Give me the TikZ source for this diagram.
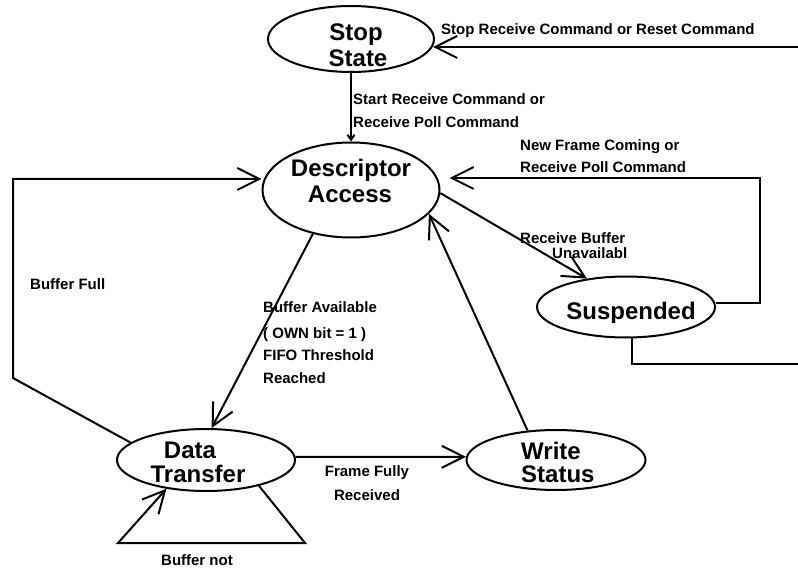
\documentclass[tikz,border=0pt]{standalone}
\usepackage{fontspec}
\setmainfont{Liberation Sans}
\usetikzlibrary{shapes.geometric,arrows.meta}
\begin{document}
\begin{tikzpicture}[x=1pt,y=-1pt,
  state/.style={ellipse,draw,line width=2pt,inner sep=0pt},
  stname/.style={anchor=base,inner sep=0pt,font=\fontsize{24}{24}\selectfont\bfseries},
  lbl/.style={anchor=base west,inner sep=0pt,font=\fontsize{15}{15}\selectfont\bfseries},
  lblc/.style={lbl,anchor=base},
  wire/.style={line width=2pt},
  arr/.style={wire,-{Straight Barb[length=22pt,width=22pt]}},
  tinyarr/.style={wire,-{Straight Barb[length=5pt,width=7pt]}}]
\useasboundingbox (0,0) rectangle (798,569);

% states
\node[state,minimum width=166,minimum height=66] (stop) at (351,39) {};
\node[state,minimum width=177,minimum height=95] (desc) at (351,190) {};
\node[state,minimum width=178,minimum height=61] (susp) at (626,307) {};
\node[state,minimum width=178,minimum height=62] (data) at (206,460) {};
\node[state,minimum width=179,minimum height=60] (write) at (556,460) {};

% state names
\node[stname] (stopT1) at (356,41) {Stop};
\node[stname] (stopT2) at (358,67) {State};
\node[stname] (descT1) at (351,177) {Descriptor};
\node[stname] (descT2) at (350,203) {Access};
\begin{scope}
  \clip (0,0) rectangle (798,322.5);
  \node[stname] (suspT) at (631,320) {Suspended};
\end{scope}
\node[stname] (dataT1) at (190,458) {Data};
\node[stname] (dataT2) at (198,482) {Transfer};
\node[stname,anchor=base west] (writeT1) at (521,459) {Write};
\node[stname,anchor=base west] (writeT2) at (521,482) {Status};

% coordinates
\coordinate (inStop) at (798,47);
\coordinate (bfA) at (13,378);
\coordinate (bfB) at (13,179);
\coordinate (lpA) at (760,303);
\coordinate (lpB) at (760,178);
\coordinate (outS) at (798,364);
\coordinate (slA) at (305,543);
\coordinate (slB) at (118,543);

% connectors
\draw[arr] (inStop) -- ([xshift=-2pt]stop.east |- inStop);
\draw[tinyarr] (stop.south) -- (desc.north);
\draw[arr] (data.167) -- (bfA) -- (bfB) -- (desc.west |- bfB);
\draw[arr] (desc.229) -- (data.80);
\draw[arr] (data.2) -- (write.178);
\draw[arr] (write.134) -- (desc.343);
\draw[arr] (desc.358) -- (susp.144);
\draw[arr] (susp.east |- lpA) -- (lpA) -- (lpB) -- ([xshift=9pt]desc.east |- lpB);
\draw[wire] (susp.281) |- (outS);
\draw[arr] (data.334) -- (slA) -- (slB) -- (data.216);

% labels
\node[lbl] (l1) at (441,35) {Stop Receive Command or Reset Command};
\node[lbl] (l2a) at (353,105) {Start Receive Command or};
\node[lbl] (l2b) at (353,128) {Receive Poll Command};
\node[lbl] (l3a) at (520,151) {New Frame Coming or};
\node[lbl] (l3b) at (520,173) {Receive Poll Command};
\node[lbl] (l4a) at (520,244) {Receive Buffer};
\node[lbl] (l4b) at (552,259) {Unavailabl};
\node[lbl] (l5) at (30,290) {Buffer Full};
\node[lbl] (l6a) at (263,313) {Buffer Available};
\node[lbl] (l6b) at (263,338) {( OWN bit = 1 )};
\node[lbl] (l6c) at (263,360) {FIFO Threshold};
\node[lbl] (l6d) at (263,383) {Reached};
\node[lblc] (l7a) at (367,476) {Frame Fully};
\node[lblc] (l7b) at (367,500) {Received};
\node[lblc] (l8) at (197,565) {Buffer not};
\end{tikzpicture}
\end{document}
